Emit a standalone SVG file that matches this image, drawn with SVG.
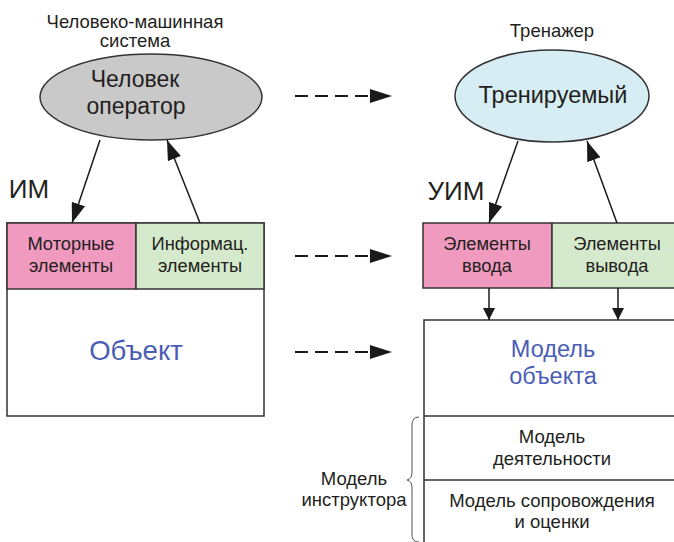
<svg xmlns="http://www.w3.org/2000/svg" width="674" height="542" viewBox="0 0 674 542">
<defs>
<marker id="ah" viewBox="0 0 20 14" refX="20" refY="7" markerWidth="20" markerHeight="14" markerUnits="userSpaceOnUse" orient="auto"><path d="M0,0 L20,7 L0,14 Z" fill="#1a1a1a"/></marker>
<marker id="ahs" viewBox="0 0 12 12" refX="12" refY="6" markerWidth="12" markerHeight="12" markerUnits="userSpaceOnUse" orient="auto"><path d="M0,0 L12,6 L0,12 Z" fill="#1a1a1a"/></marker>
<marker id="ahd" viewBox="0 0 22 14" refX="22" refY="7" markerWidth="22" markerHeight="14" markerUnits="userSpaceOnUse" orient="auto"><path d="M0,0 L22,7 L0,14 Z" fill="#1a1a1a"/></marker>
</defs>
<style>
text{font-family:"Liberation Sans",Arial,sans-serif;fill:#231f20;text-anchor:middle}
.s{font-size:18.5px}
.m{font-size:18.3px}
.l{font-size:23px}
.xl{font-size:27.5px}
.bm{font-size:23.5px}
.b{fill:#4a5db5}
.box{stroke:#333;stroke-width:1.5}
.ln{stroke:#1a1a1a;stroke-width:1.5;fill:none}
.dash{stroke:#1a1a1a;stroke-width:2;stroke-dasharray:13 7;fill:none}
</style>
<rect width="674" height="542" fill="#fff"/>

<g id="label-hms">
<text class="s" x="135" y="28">Человеко-машинная</text>
<text class="s" x="135" y="47">система</text>
</g>
<g id="operator">
<ellipse cx="151" cy="97" rx="111" ry="43" fill="#c9c9ca" class="box"/>
<text class="l" x="135" y="87">Человек</text>
<text class="l" x="136" y="114">оператор</text>
</g>
<g id="label-im"><text x="29" y="198" style="font-size:26px">ИМ</text></g>

<g id="im-box">
<rect x="7" y="223" width="257" height="193" fill="#fff" class="box"/>
<rect x="7" y="223" width="129" height="66" fill="#f19ac0" class="box"/>
<rect x="136" y="223" width="128" height="66" fill="#d5e9cc" class="box"/>
<text class="m" x="71" y="250">Моторные</text>
<text class="m" x="71" y="272">элементы</text>
<text class="m" x="200" y="250">Информац.</text>
<text class="m" x="200" y="272">элементы</text>
<text class="xl b" x="136" y="360">Объект</text>
</g>

<g id="label-trainer"><text class="s" x="552" y="37">Тренажер</text></g>
<g id="trainee">
<ellipse cx="552" cy="96" rx="97" ry="46" fill="#d5edf3" class="box"/>
<text class="bm" x="553" y="103">Тренируемый</text>
</g>
<g id="label-uim"><text x="456" y="200" style="font-size:26px">УИМ</text></g>

<g id="uim-box">
<rect x="423" y="223" width="129" height="65" fill="#f19ac0" class="box"/>
<rect x="552" y="223" width="130" height="65" fill="#d5e9cc" class="box"/>
<text class="m" x="487" y="250">Элементы</text>
<text class="m" x="487" y="272">ввода</text>
<text class="m" x="617" y="250">Элементы</text>
<text class="m" x="617" y="272">вывода</text>
</g>

<g id="model-box">
<rect x="424" y="320" width="258" height="240" fill="#fff" class="box"/>
<line x1="424" y1="416" x2="682" y2="416" class="box"/>
<line x1="424" y1="480" x2="682" y2="480" class="box"/>
<text class="bm b" x="553" y="357">Модель</text>
<text class="bm b" x="553" y="384">объекта</text>
<text class="s" x="552" y="443">Модель</text>
<text class="s" x="552" y="465">деятельности</text>
<text class="s" x="552" y="507">Модель сопровождения</text>
<text class="s" x="552" y="528">и оценки</text>
</g>

<g id="label-instructor">
<path d="M419,417 Q412,417 412,425 L412,472 Q412,479 407,480 Q412,481 412,488 L412,535 Q412,542 419,542" fill="none" stroke="#555" stroke-width="1"/>
<text class="s" x="354" y="485">Модель</text>
<text class="s" x="354" y="506">инструктора</text>
</g>

<g id="connectors">
<line x1="100" y1="140" x2="72" y2="223" class="ln" marker-end="url(#ah)"/>
<line x1="200" y1="223" x2="167" y2="140" class="ln" marker-end="url(#ah)"/>
<line x1="518" y1="141" x2="489" y2="223" class="ln" marker-end="url(#ah)"/>
<line x1="617" y1="223" x2="587" y2="141" class="ln" marker-end="url(#ah)"/>
<line x1="489" y1="288" x2="489" y2="320" class="ln" marker-end="url(#ahs)"/>
<line x1="618" y1="288" x2="618" y2="320" class="ln" marker-end="url(#ahs)"/>
<line x1="295" y1="96" x2="392" y2="96" class="dash" marker-end="url(#ahd)"/>
<line x1="295" y1="256" x2="392" y2="256" class="dash" marker-end="url(#ahd)"/>
<line x1="295" y1="352" x2="392" y2="352" class="dash" marker-end="url(#ahd)"/>
</g>
</svg>
